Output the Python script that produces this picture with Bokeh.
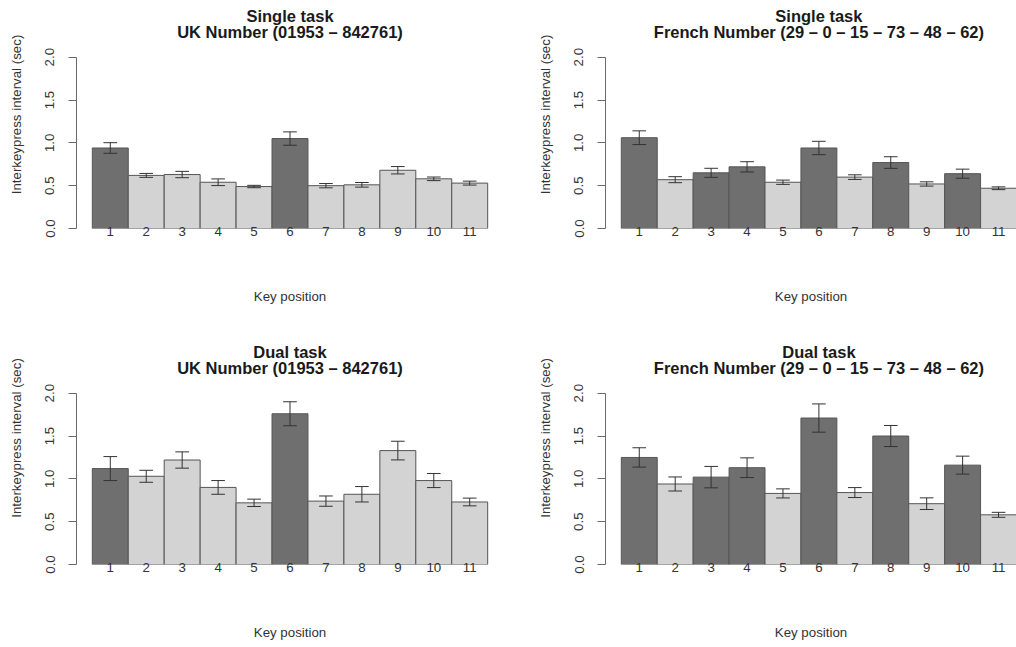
from bokeh.plotting import figure
from bokeh.layouts import column, row
from bokeh.models import ColumnDataSource, FixedTicker, NumeralTickFormatter, Range1d, Label
from bokeh.embed import file_html
from bokeh.resources import INLINE

# Key positions 1..11
positions = list(range(1, 12))

# Mean interkeypress intervals (sec) and standard errors per condition
uk_single_mean = [0.94, 0.62, 0.63, 0.54, 0.49, 1.05, 0.50, 0.51, 0.68, 0.58, 0.53]
uk_single_err = [0.062, 0.023, 0.037, 0.039, 0.014, 0.078, 0.025, 0.027, 0.043, 0.021, 0.023]

fr_single_mean = [1.06, 0.57, 0.65, 0.72, 0.54, 0.94, 0.60, 0.77, 0.52, 0.64, 0.47]
fr_single_err = [0.080, 0.035, 0.053, 0.060, 0.025, 0.078, 0.027, 0.068, 0.025, 0.053, 0.016]

uk_dual_mean = [1.12, 1.03, 1.22, 0.90, 0.72, 1.76, 0.74, 0.82, 1.33, 0.98, 0.73]
uk_dual_err = [0.140, 0.070, 0.095, 0.080, 0.043, 0.140, 0.060, 0.090, 0.109, 0.082, 0.045]

fr_dual_mean = [1.25, 0.94, 1.02, 1.13, 0.83, 1.71, 0.84, 1.50, 0.71, 1.16, 0.58]
fr_dual_err = [0.113, 0.082, 0.125, 0.115, 0.053, 0.165, 0.058, 0.123, 0.068, 0.105, 0.029]

# Positions that start a chunk (drawn dark)
uk_chunk_start = [1, 6]
fr_chunk_start = [1, 3, 4, 6, 8, 10]

y_ticks = [0.0, 0.5, 1.0, 1.5, 2.0]
Y_MAX = 2.0

DARK = "#6f6f6f"
LIGHT = "#d3d3d3"
FONT = "Liberation Sans"

X_START = 0.06       # plot region starts 4% of the bar span before bar 1
X_CENTER = 6.0       # middle of the full plot region (titles centred here)
AXIS_PX = 171.3      # pixel height of the 0..2 sec axis
BOTTOM = 83          # space below the bars for labels


def panel(task, number, means, errs, chunks, width, height, border_right, x_end):
    # the frame runs to the top edge so the titles can live inside it;
    # the visible y axis is bounded to 0..2
    frame_h = height - BOTTOM
    y_end = Y_MAX * frame_h / AXIS_PX
    px_per_unit = AXIS_PX / Y_MAX
    p = figure(width=width, height=height, output_backend="svg",
               toolbar_location=None,
               x_range=Range1d(X_START, x_end), y_range=Range1d(0, y_end),
               min_border_left=76, min_border_right=border_right,
               min_border_top=0, min_border_bottom=BOTTOM)
    p.outline_line_color = None
    p.xgrid.visible = False
    p.ygrid.visible = False
    p.background_fill_color = "white"
    p.border_fill_color = "white"

    colors = [DARK if k in chunks else LIGHT for k in positions]
    src = ColumnDataSource(dict(
        x=positions, top=means, color=colors,
        upper=[m + e for m, e in zip(means, errs)],
        lower=[m - e for m, e in zip(means, errs)],
        cl=[k - 0.19 for k in positions],
        cr=[k + 0.19 for k in positions],
    ))
    p.vbar(x="x", top="top", bottom=0, width=1.0, source=src,
           fill_color="color", line_color="#555555", line_width=1)
    p.segment(x0="x", x1="x", y0="lower", y1="upper", source=src,
              line_color="#333333", line_width=1)
    p.segment(x0="cl", x1="cr", y0="upper", y1="upper", source=src,
              line_color="#333333", line_width=1)
    p.segment(x0="cl", x1="cr", y0="lower", y1="lower", source=src,
              line_color="#333333", line_width=1)

    # two-line bold title above the axis top
    for txt, off in ((task, 41.3), (number, 25.0)):
        p.add_layout(Label(x=X_CENTER, y=Y_MAX + off / px_per_unit, text=txt,
                           text_align="center", text_baseline="middle",
                           text_font=FONT, text_font_size="16.5px",
                           text_font_style="bold", text_color="#1a1a1a"))

    ya = p.yaxis[0]
    ya.bounds = (0, Y_MAX)
    ya.ticker = FixedTicker(ticks=y_ticks)
    ya.formatter = NumeralTickFormatter(format="0.0")
    ya.major_label_orientation = "vertical"
    ya.axis_label = "Interkeypress interval (sec)"
    ya.axis_label_text_font = FONT
    ya.axis_label_text_font_size = "13.3px"
    ya.axis_label_text_font_style = "normal"
    ya.axis_label_text_color = "#333333"
    ya.axis_label_standoff = 19
    ya.major_label_text_font = FONT
    ya.major_label_text_font_size = "13.3px"
    ya.major_label_text_color = "#333333"
    ya.major_label_standoff = 14
    ya.axis_line_color = "#6a6a6a"
    ya.major_tick_line_color = "#6a6a6a"
    ya.major_tick_out = 8
    ya.major_tick_in = 0
    ya.minor_tick_line_color = None

    xa = p.xaxis[0]
    xa.ticker = FixedTicker(ticks=positions)
    xa.axis_line_color = None
    xa.major_tick_line_color = None
    xa.minor_tick_line_color = None
    xa.major_tick_out = 0
    xa.major_label_standoff = -2
    xa.major_label_text_font = FONT
    xa.major_label_text_font_size = "13.3px"
    xa.major_label_text_color = "#333333"
    xa.axis_label = "Key position"
    xa.axis_label_text_font = FONT
    xa.axis_label_text_font_size = "13.3px"
    xa.axis_label_text_font_style = "normal"
    xa.axis_label_text_color = "#333333"
    xa.axis_label_standoff = 50
    return p


uk_title = "UK Number (01953 \u2013 842761)"
fr_title = "French Number (29 \u2013 0 \u2013 15 \u2013 73 \u2013 48 \u2013 62)"

p1 = panel("Single task", uk_title, uk_single_mean, uk_single_err, uk_chunk_start,
           529, 311, 26, 11.94)
p2 = panel("Single task", fr_title, fr_single_mean, fr_single_err, fr_chunk_start,
           487, 311, 0, 11.5)
p3 = panel("Dual task", uk_title, uk_dual_mean, uk_dual_err, uk_chunk_start,
           529, 336, 26, 11.94)
p4 = panel("Dual task", fr_title, fr_dual_mean, fr_dual_err, fr_chunk_start,
           487, 336, 0, 11.5)

layout = column(row(p1, p2), row(p3, p4))

open("out.html", "w").write(file_html(layout, INLINE))
